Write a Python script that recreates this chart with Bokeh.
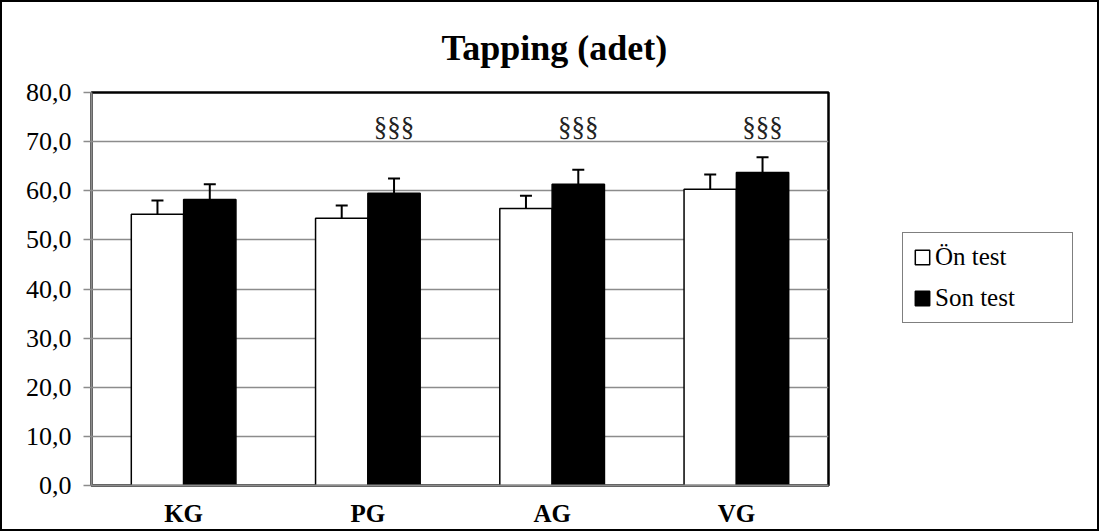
from bokeh.plotting import figure
from bokeh.layouts import row
from bokeh.models import (FactorRange, Range1d, ColumnDataSource, Whisker, TeeHead,
                          Legend, LegendItem, CustomJSTickFormatter, FixedTicker)
from bokeh.transform import dodge
from bokeh.core.properties import value
from bokeh.embed import file_html
from bokeh.resources import INLINE

groups = ["KG", "PG", "AG", "VG"]
on_test = [55.2, 54.4, 56.4, 60.3]
on_err = [2.8, 2.6, 2.6, 3.0]
son_test = [58.2, 59.5, 61.3, 63.7]
son_err = [3.1, 3.0, 3.0, 3.1]
marks = ["", "§§§", "§§§", "§§§"]
mark_level = [72.9, 72.9, 72.9, 72.9]
y_ticks = [0, 10, 20, 30, 40, 50, 60, 70, 80]
series_names = ["Ön test", "Son test"]

SERIF = "Liberation Serif"

src = ColumnDataSource(dict(
    g=groups, on=on_test, son=son_test,
    on_up=[a + b for a, b in zip(on_test, on_err)],
    son_up=[a + b for a, b in zip(son_test, son_err)],
    mark=marks, mark_y=mark_level,
))

p = figure(x_range=FactorRange(*groups), y_range=Range1d(0, 80),
           frame_width=737, frame_height=393, output_backend="svg", toolbar_location=None,
           min_border_left=89, min_border_top=90, min_border_right=4, min_border_bottom=36)
p.outline_line_color = "black"
p.outline_line_width = 2.5
p.background_fill_color = "white"
p.border_fill_color = "white"

# title
p.title.text = "Tapping (adet)"
p.title.text_font = SERIF
p.title.text_font_size = "36px"
p.title.text_font_style = "bold"
p.title.text_color = "black"
p.title.align = "left"
p.title.offset = 350
p.title.vertical_align = "top"
p.title.standoff = 46

bw = 0.284
r_on = p.vbar(x=dodge("g", -bw / 2, range=p.x_range), top="on", width=bw, source=src,
              fill_color="white", line_color="black", line_width=1.5)
r_son = p.vbar(x=dodge("g", bw / 2, range=p.x_range), top="son", width=bw, source=src,
               fill_color="black", line_color="black", line_width=1.5)

for col, up, off in (("on", "on_up", -bw / 2), ("son", "son_up", bw / 2)):
    w = Whisker(base=dodge("g", off, range=p.x_range), lower=col, upper=up, source=src,
                dimension="height", line_color="black", line_width=2,
                upper_head=TeeHead(size=12, line_width=2, line_color="black"), lower_head=None)
    p.add_layout(w)

p.text(x=dodge("g", bw / 2, range=p.x_range), y="mark_y", text="mark", source=src,
       text_font=value(SERIF), text_font_size="27px", text_align="center",
       text_baseline="middle", text_color="#222222")

p.xgrid.grid_line_color = None
p.ygrid.grid_line_color = "#8c8c8c"
p.ygrid.grid_line_width = 1.5
p.ygrid.ticker = FixedTicker(ticks=y_ticks)

p.yaxis.ticker = FixedTicker(ticks=y_ticks)
p.yaxis.formatter = CustomJSTickFormatter(code="return tick.toFixed(1).replace('.', ',');")
p.yaxis.major_label_text_font = SERIF
p.yaxis.major_label_text_font_size = "26px"
p.yaxis.major_label_text_color = "black"
p.yaxis.axis_line_color = "#8c8c8c"
p.yaxis.axis_line_width = 2
p.yaxis.major_tick_line_color = "#8c8c8c"
p.yaxis.major_tick_line_width = 1.5
p.yaxis.major_tick_in = 0
p.yaxis.major_tick_out = 8
p.yaxis.minor_tick_line_color = None
p.yaxis.major_label_standoff = 12

p.xaxis.major_label_text_font = SERIF
p.xaxis.major_label_text_font_size = "25px"
p.xaxis.major_label_text_font_style = "bold"
p.xaxis.major_label_text_color = "black"
p.xaxis.axis_line_color = "#8c8c8c"
p.xaxis.axis_line_width = 2
p.xaxis.major_tick_line_color = None
p.xaxis.major_label_standoff = 8

# legend panel (separate canvas to the right of the chart area)
p2 = figure(width=265, height=519, x_range=Range1d(0, 1), y_range=Range1d(0, 1),
            output_backend="svg", toolbar_location=None, min_border=0)
p2.axis.visible = False
p2.grid.visible = False
p2.outline_line_color = None
p2.background_fill_color = "white"
p2.border_fill_color = "white"
# legend-only renderers: a single NaN row, so nothing is drawn in the panel itself
nan_src = ColumnDataSource(dict(x=[float("nan")], top=[float("nan")]))
l_on = p2.vbar(x="x", top="top", width=0.1, source=nan_src,
               fill_color="white", line_color="black", line_width=1.5)
l_son = p2.vbar(x="x", top="top", width=0.1, source=nan_src,
                fill_color="black", line_color="black", line_width=1.5)

legend = Legend(items=[LegendItem(label=series_names[0], renderers=[l_on]),
                       LegendItem(label=series_names[1], renderers=[l_son])],
                location=(70, 154), label_text_font=SERIF, label_text_font_size="25px",
                label_text_color="black",
                glyph_width=18, glyph_height=18, spacing=13, padding=10, margin=0,
                border_line_color="black", border_line_width=1.5,
                label_standoff=4, label_height=22, label_width=127,
                background_fill_color="white", background_fill_alpha=1)
p2.add_layout(legend)

layout = row(p, p2)
layout.styles = {"border": "2px solid black"}

open("out.html", "w").write(file_html(layout, INLINE))
